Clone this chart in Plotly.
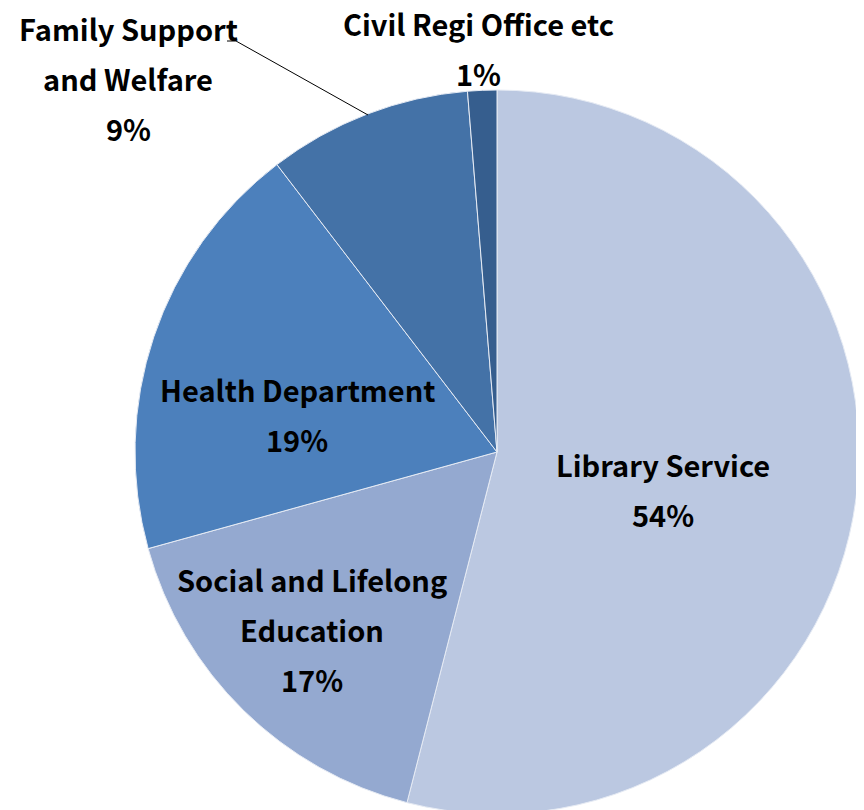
import plotly.graph_objects as go

categories = ["Library Service", "Social and Lifelong Education", "Health Department",
              "Family Support and Welfare", "Civil Regi Office etc"]
label_lines = [["Library Service"], ["Social and Lifelong", "Education"], ["Health Department"],
               ["Family Support", "and Welfare"], ["Civil Regi Office etc"]]
values = [54.0, 16.7, 18.9, 9.1, 1.3]
colors = ["#BBC8E1", "#94A9D0", "#4C80BC", "#4472A7", "#365E8E"]

W, H = 864, 810
OFF = 8  # page body margin offset
LINE_GAP = 50
# label anchor (centre of first line) in pixels as seen on the page
label_pos = [(663, 464), (312, 579), (297, 389), (128, 28), (479, 23)]


def px_x(x):
    return (x - OFF) / W


def px_y(y):
    return 1 - (y - OFF) / H


fig = go.Figure(go.Pie(
    labels=categories,
    values=values,
    sort=False,
    direction="clockwise",
    rotation=0,
    marker=dict(colors=colors, line=dict(color="#E6EBF4", width=1)),
    textinfo="none",
    showlegend=False,
    hoverinfo="label+percent",
    domain=dict(x=[px_x(135), px_x(859)], y=[px_y(814), px_y(90)]),
))

total = sum(values)
annotations = []
for lines, v, (px, py) in zip(label_lines, values, label_pos):
    all_lines = lines + [f"{round(v / total * 100)}%"]
    for i, t in enumerate(all_lines):
        annotations.append(dict(
            x=px_x(px), y=px_y(py + i * LINE_GAP),
            xref="paper", yref="paper",
            text=t, showarrow=False,
            xanchor="center", yanchor="middle",
            borderpad=0,
            font=dict(family="Noto Sans CJK JP", size=29, color="black", weight="bold"),
        ))

fig.update_layout(
    width=W, height=H,
    margin=dict(l=0, r=0, t=0, b=0),
    paper_bgcolor="white",
    plot_bgcolor="white",
    annotations=annotations,
    shapes=[dict(
        type="path", xref="paper", yref="paper",
        path=(f"M {px_x(227)},{px_y(41)} L {px_x(236)},{px_y(41)} "
              f"L {px_x(368)},{px_y(115)}"),
        line=dict(color="black", width=1),
    )],
)

fig.write_html("out.html")
